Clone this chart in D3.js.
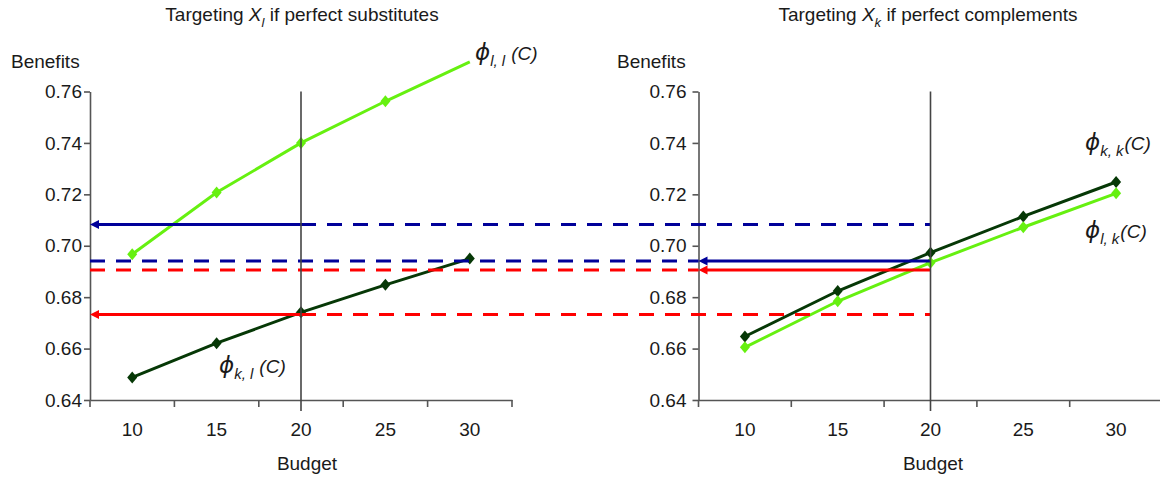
<!DOCTYPE html>
<html>
<head>
<meta charset="utf-8">
<script src="https://cdn.jsdelivr.net/npm/d3@7"></script>
<style>
  body { margin: 0; background: #fff; }
  svg { display: block; }
  text { font-family: "Liberation Sans", Arial, sans-serif; fill: #1a1a1a; }
</style>
</head>
<body>
<svg id="chart" width="1160" height="480"></svg>
<script>
// budgets on the x axis, benefit ticks on the y axis
const budgets = [10, 15, 20, 25, 30];
const yTicks = [0.64, 0.66, 0.68, 0.70, 0.72, 0.74, 0.76];

// left panel: targeting X_l if perfect substitutes
const phiLL = [0.6967, 0.7207, 0.7400, 0.7562, 0.7715];
const phiKL = [0.6488, 0.6621, 0.6741, 0.6848, 0.6950];

// right panel: targeting X_k if perfect complements
const phiKK = [0.6647, 0.6824, 0.6973, 0.7114, 0.7248];
const phiLK = [0.6605, 0.6784, 0.6934, 0.7072, 0.7204];

const refLevels = [0.7083, 0.6941, 0.6906, 0.6733];
const refFrom = ["left", "right", "right", "left"];

const light = "#66f010", dark = "#063806";
const blue = "#000099", red = "#ff0000";
const refColors = [blue, blue, red, red];

const svg = d3.select("#chart");

// shared value scale so the reference lines run straight across both panels
const y = d3.scaleLinear().domain([0.64, 0.76]).range([400, 91.5]);

const panels = {
  left: { x0: 90, x1: 512, pad: 2, title: ["Targeting ", "l", " if perfect substitutes"], tx: 302, bx: 307, benX: 11,
          series: [{ vals: phiLL, color: light }, { vals: phiKL, color: dark }] },
  right: { x0: 698.5, x1: 1162.5, pad: 6, title: ["Targeting ", "k", " if perfect complements"], tx: 928, bx: 933, benX: 617,
          series: [{ vals: phiKK, color: dark }, { vals: phiLK, color: light }] }
};

Object.values(panels).forEach(p => {
  p.x = d3.scaleBand().domain(budgets).range([p.x0, p.x1]).padding(0);
  p.cx = b => p.x(b) + p.x.bandwidth() / 2;
});

function diamond(cx, cy) {
  return `M${cx},${cy - 6}L${cx + 5},${cy}L${cx},${cy + 6}L${cx - 5},${cy}Z`;
}

Object.entries(panels).forEach(([key, p]) => {
  const g = svg.append("g");

  // y axis
  const ya = g.append("g")
    .attr("transform", `translate(${p.x0},0)`)
    .call(d3.axisLeft(y).tickValues(yTicks).tickFormat(d3.format(".2f")).tickSize(6).tickSizeOuter(0).tickPadding(p.pad));
  ya.selectAll("text").style("font-size", "19px").style("fill", "#1a1a1a");

  // x axis: labels in band centres, ticks on band edges
  const xa = g.append("g")
    .attr("transform", "translate(0,400)")
    .call(d3.axisBottom(p.x).tickSize(0).tickSizeOuter(0).tickPadding(22.5));
  xa.selectAll("text").style("font-size", "19px").style("fill", "#1a1a1a");
  xa.selectAll(".edge")
    .data(budgets.map(b => p.x(b)).concat([p.x1]))
    .enter().append("line")
    .attr("x1", d => d).attr("x2", d => d)
    .attr("y1", 0).attr("y2", 7)
    .attr("stroke", "currentColor");
  g.selectAll(".domain, .tick line, line").attr("stroke", "#555").attr("stroke-width", 1.6);

  // series
  p.series.forEach(s => {
    const pts = budgets.map((b, i) => ({ b, v: s.vals[i] }));
    g.append("path")
      .datum(pts)
      .attr("fill", "none")
      .attr("stroke", s.color)
      .attr("stroke-width", 3)
      .attr("d", d3.line().x(d => p.cx(d.b)).y(d => y(d.v)));
    g.selectAll(null)
      .data(pts.filter(d => d.v <= 0.76))
      .enter().append("path")
      .attr("fill", s.color)
      .attr("d", d => diamond(p.cx(d.b), y(d.v)));
  });

  // titles
  const t = g.append("text").attr("x", p.tx).attr("y", 21).attr("text-anchor", "middle").style("font-size", "19px");
  t.append("tspan").text(p.title[0]);
  t.append("tspan").style("font-style", "italic").text("X");
  t.append("tspan").attr("dy", 6).style("font-size", "13px").style("font-style", "italic").text(p.title[1]);
  t.append("tspan").attr("dy", -6).text(p.title[2]);

  g.append("text").attr("x", p.benX).attr("y", 68).style("font-size", "19px").text("Benefits");
  g.append("text").attr("x", p.bx).attr("y", 470).attr("text-anchor", "middle").style("font-size", "19px").text("Budget");
});

// reference levels: solid with arrow in the panel they come from, dashed elsewhere
const L = panels.left, R = panels.right;
const refG = svg.append("g");
refLevels.forEach((v, i) => {
  const yy = y(v), c = refColors[i];
  let solid, dashed;
  if (refFrom[i] === "left") {
    solid = [L.x0, L.cx(20)];
    dashed = [L.cx(20), R.cx(20)];
  } else {
    dashed = [L.x0, R.x0];
    solid = [R.x0, R.cx(20)];
  }
  refG.append("line")
    .attr("x1", dashed[0]).attr("x2", dashed[1]).attr("y1", yy).attr("y2", yy)
    .attr("stroke", c).attr("stroke-width", 3).attr("stroke-dasharray", "15,11");
  refG.append("line")
    .attr("x1", solid[0] + 6).attr("x2", solid[1]).attr("y1", yy).attr("y2", yy)
    .attr("stroke", c).attr("stroke-width", 3);
  refG.append("path")
    .attr("fill", c)
    .attr("d", `M${solid[0]},${yy}L${solid[0] + 9},${yy - 4.5}L${solid[0] + 9},${yy + 4.5}Z`);
});

// vertical marker at budget 20
[L, R].forEach(p => {
  svg.append("line")
    .attr("x1", p.cx(20)).attr("x2", p.cx(20))
    .attr("y1", y(0.76)).attr("y2", 411)
    .attr("stroke", "#444").attr("stroke-width", 1.6);
});

// phi labels
function phiLabel(x, yy, sub, gap) {
  const t = svg.append("text").attr("x", x).attr("y", yy);
  t.append("tspan").style("font-family", "'DejaVu Sans', sans-serif").style("font-style", "italic").style("font-size", "23px").text("\u03D5");
  t.append("tspan").attr("dy", 6).style("font-style", "italic").style("font-size", "15px").text(sub);
  t.append("tspan").attr("dy", -6).attr("dx", gap).style("font-style", "italic").style("font-size", "19px").text("(C)");
}
phiLabel(475, 60, "l, l", 6);
phiLabel(219, 373, "k, l", 6);
phiLabel(1085, 150, "k, k", 1);
phiLabel(1085, 238, "l, k", 1);
</script>
</body>
</html>
